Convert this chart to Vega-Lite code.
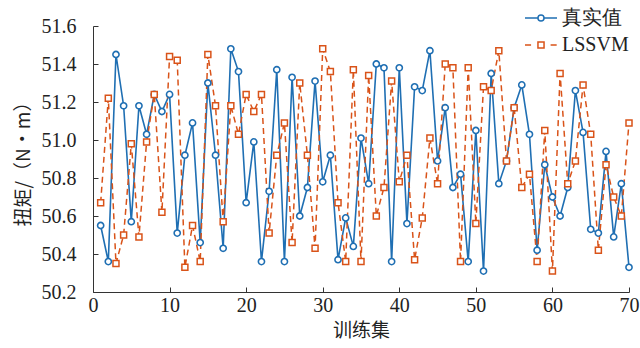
{
  "$schema": "https://vega.github.io/schema/vega-lite/v6.json",
  "width": 536,
  "height": 266,
  "autosize": {"type": "none"},
  "padding": {"left": 93, "top": 26, "right": 11, "bottom": 56},
  "background": "white",
  "config": {
    "view": {"stroke": null},
    "axis": {
      "grid": false,
      "domainColor": "#333333",
      "tickColor": "#333333",
      "domainWidth": 1,
      "tickSize": -5,
      "labelFont": "Liberation Serif",
      "labelFontSize": 20,
      "labelColor": "#222222",
      "titleFont": "Noto Sans CJK SC",
      "titleFontSize": 19,
      "titleFontWeight": "normal",
      "titleColor": "#222222"
    },
    "legend": {
      "labelFont": "Liberation Serif",
      "labelFontSize": 20,
      "labelColor": "#222222"
    }
  },
  "datasets": {
    "d": [
      {"x":1,"series":"真实值","v":50.55},{"x":2,"series":"真实值","v":50.36},{"x":3,"series":"真实值","v":51.45},{"x":4,"series":"真实值","v":51.18},{"x":5,"series":"真实值","v":50.57},
      {"x":6,"series":"真实值","v":51.18},{"x":7,"series":"真实值","v":51.03},{"x":8,"series":"真实值","v":51.24},{"x":9,"series":"真实值","v":51.15},{"x":10,"series":"真实值","v":51.24},
      {"x":11,"series":"真实值","v":50.51},{"x":12,"series":"真实值","v":50.92},{"x":13,"series":"真实值","v":51.09},{"x":14,"series":"真实值","v":50.46},{"x":15,"series":"真实值","v":51.30},
      {"x":16,"series":"真实值","v":50.92},{"x":17,"series":"真实值","v":50.43},{"x":18,"series":"真实值","v":51.48},{"x":19,"series":"真实值","v":51.36},{"x":20,"series":"真实值","v":50.67},
      {"x":21,"series":"真实值","v":50.99},{"x":22,"series":"真实值","v":50.36},{"x":23,"series":"真实值","v":50.73},{"x":24,"series":"真实值","v":51.37},{"x":25,"series":"真实值","v":50.36},
      {"x":26,"series":"真实值","v":51.33},{"x":27,"series":"真实值","v":50.60},{"x":28,"series":"真实值","v":50.75},{"x":29,"series":"真实值","v":51.31},{"x":30,"series":"真实值","v":50.78},
      {"x":31,"series":"真实值","v":50.92},{"x":32,"series":"真实值","v":50.37},{"x":33,"series":"真实值","v":50.59},{"x":34,"series":"真实值","v":50.44},{"x":35,"series":"真实值","v":51.01},
      {"x":36,"series":"真实值","v":50.77},{"x":37,"series":"真实值","v":51.40},{"x":38,"series":"真实值","v":51.38},{"x":39,"series":"真实值","v":50.36},{"x":40,"series":"真实值","v":51.38},
      {"x":41,"series":"真实值","v":50.56},{"x":42,"series":"真实值","v":51.28},{"x":43,"series":"真实值","v":51.26},{"x":44,"series":"真实值","v":51.47},{"x":45,"series":"真实值","v":50.89},
      {"x":46,"series":"真实值","v":51.17},{"x":47,"series":"真实值","v":50.75},{"x":48,"series":"真实值","v":50.82},{"x":49,"series":"真实值","v":50.36},{"x":50,"series":"真实值","v":51.05},
      {"x":51,"series":"真实值","v":50.31},{"x":52,"series":"真实值","v":51.35},{"x":53,"series":"真实值","v":50.77},{"x":54,"series":"真实值","v":50.89},{"x":55,"series":"真实值","v":51.17},
      {"x":56,"series":"真实值","v":51.29},{"x":57,"series":"真实值","v":51.03},{"x":58,"series":"真实值","v":50.42},{"x":59,"series":"真实值","v":50.87},{"x":60,"series":"真实值","v":50.70},
      {"x":61,"series":"真实值","v":50.60},{"x":62,"series":"真实值","v":50.75},{"x":63,"series":"真实值","v":51.26},{"x":64,"series":"真实值","v":51.04},{"x":65,"series":"真实值","v":50.53},
      {"x":66,"series":"真实值","v":50.51},{"x":67,"series":"真实值","v":50.94},{"x":68,"series":"真实值","v":50.49},{"x":69,"series":"真实值","v":50.77},{"x":70,"series":"真实值","v":50.33},
      {"x":1,"series":"LSSVM","v":50.67},{"x":2,"series":"LSSVM","v":51.22},{"x":3,"series":"LSSVM","v":50.35},{"x":4,"series":"LSSVM","v":50.50},{"x":5,"series":"LSSVM","v":50.98},
      {"x":6,"series":"LSSVM","v":50.49},{"x":7,"series":"LSSVM","v":50.99},{"x":8,"series":"LSSVM","v":51.24},{"x":9,"series":"LSSVM","v":50.62},{"x":10,"series":"LSSVM","v":51.44},
      {"x":11,"series":"LSSVM","v":51.42},{"x":12,"series":"LSSVM","v":50.33},{"x":13,"series":"LSSVM","v":50.55},{"x":14,"series":"LSSVM","v":50.36},{"x":15,"series":"LSSVM","v":51.45},
      {"x":16,"series":"LSSVM","v":51.18},{"x":17,"series":"LSSVM","v":50.57},{"x":18,"series":"LSSVM","v":51.18},{"x":19,"series":"LSSVM","v":51.03},{"x":20,"series":"LSSVM","v":51.24},
      {"x":21,"series":"LSSVM","v":51.15},{"x":22,"series":"LSSVM","v":51.24},{"x":23,"series":"LSSVM","v":50.51},{"x":24,"series":"LSSVM","v":50.92},{"x":25,"series":"LSSVM","v":51.09},
      {"x":26,"series":"LSSVM","v":50.46},{"x":27,"series":"LSSVM","v":51.30},{"x":28,"series":"LSSVM","v":50.92},{"x":29,"series":"LSSVM","v":50.43},{"x":30,"series":"LSSVM","v":51.48},
      {"x":31,"series":"LSSVM","v":51.36},{"x":32,"series":"LSSVM","v":50.67},{"x":33,"series":"LSSVM","v":50.36},{"x":34,"series":"LSSVM","v":51.37},{"x":35,"series":"LSSVM","v":50.36},
      {"x":36,"series":"LSSVM","v":51.34},{"x":37,"series":"LSSVM","v":50.60},{"x":38,"series":"LSSVM","v":50.75},{"x":39,"series":"LSSVM","v":51.31},{"x":40,"series":"LSSVM","v":50.78},
      {"x":41,"series":"LSSVM","v":50.92},{"x":42,"series":"LSSVM","v":50.37},{"x":43,"series":"LSSVM","v":50.59},{"x":44,"series":"LSSVM","v":51.01},{"x":45,"series":"LSSVM","v":50.77},
      {"x":46,"series":"LSSVM","v":51.40},{"x":47,"series":"LSSVM","v":51.38},{"x":48,"series":"LSSVM","v":50.36},{"x":49,"series":"LSSVM","v":51.38},{"x":50,"series":"LSSVM","v":50.56},
      {"x":51,"series":"LSSVM","v":51.28},{"x":52,"series":"LSSVM","v":51.26},{"x":53,"series":"LSSVM","v":51.47},{"x":54,"series":"LSSVM","v":50.89},{"x":55,"series":"LSSVM","v":51.17},
      {"x":56,"series":"LSSVM","v":50.75},{"x":57,"series":"LSSVM","v":50.82},{"x":58,"series":"LSSVM","v":50.36},{"x":59,"series":"LSSVM","v":51.05},{"x":60,"series":"LSSVM","v":50.31},
      {"x":61,"series":"LSSVM","v":51.35},{"x":62,"series":"LSSVM","v":50.77},{"x":63,"series":"LSSVM","v":50.89},{"x":64,"series":"LSSVM","v":51.29},{"x":65,"series":"LSSVM","v":51.03},
      {"x":66,"series":"LSSVM","v":50.42},{"x":67,"series":"LSSVM","v":50.87},{"x":68,"series":"LSSVM","v":50.70},{"x":69,"series":"LSSVM","v":50.60},{"x":70,"series":"LSSVM","v":51.09}
    ]
  },
  "data": {"name": "d"},
  "encoding": {
    "x": {
      "field": "x", "type": "quantitative",
      "scale": {"domain": [0, 70], "nice": false},
      "axis": {"values": [0,10,20,30,40,50,60,70], "title": "训练集", "labelPadding": 8, "titlePadding": 6, "labelFlush": false}
    },
    "y": {
      "field": "v", "type": "quantitative",
      "scale": {"domain": [50.2, 51.6], "nice": false, "zero": false},
      "axis": {"values": [50.2,50.4,50.6,50.8,51.0,51.2,51.4,51.6], "format": ".1f", "title": "扭矩/（N·m）", "labelPadding": 22, "titlePadding": 8, "labelFlush": false}
    }
  },
  "layer": [
    {
      "transform": [{"filter": "datum.series === '真实值'"}],
      "mark": {"type": "line", "strokeWidth": 1.6, "color": "#1f6fb3"},
      "encoding": {}
    },
    {
      "transform": [{"filter": "datum.series === 'LSSVM'"}],
      "mark": {"type": "line", "strokeWidth": 1.5, "color": "#d95319", "strokeDash": [6, 4]},
      "encoding": {}
    },
    {
      "transform": [{"filter": "datum.series === '真实值'"}],
      "mark": {"type": "point", "shape": "circle", "filled": false, "fill": "white", "fillOpacity": 1, "stroke": "#1f6fb3", "strokeWidth": 1.6, "size": 38, "opacity": 1}
    },
    {
      "transform": [{"filter": "datum.series === 'LSSVM'"}],
      "mark": {"type": "point", "shape": "square", "filled": false, "fill": "white", "fillOpacity": 1, "stroke": "#d95319", "strokeWidth": 1.5, "size": 36, "opacity": 1}
    },
    {
      "transform": [{"filter": "datum.x < 0"}],
      "mark": {"type": "point", "filled": false, "opacity": 1, "strokeWidth": 1.5},
      "encoding": {
        "color": {
          "field": "series", "type": "nominal",
          "scale": {"domain": ["真实值", "LSSVM"], "range": ["#1f6fb3", "#d95319"]},
          "legend": {
            "orient": "none",
            "legendX": 431,
            "legendY": -25,
            "title": null,
            "padding": 0,
            "rowPadding": 0,
            "symbolSize": 1024,
            "symbolStrokeWidth": 1.5,
            "symbolFillColor": "white",
            "symbolOpacity": 1,
            "labelOffset": 4
          }
        },
        "shape": {
          "field": "series", "type": "nominal",
          "scale": {"domain": ["真实值", "LSSVM"], "range": ["M-1,0H-0.19M0.19,0H1M-0.19,0A0.19,0.19,0,1,0,0.19,0A0.19,0.19,0,1,0,-0.19,0Z", "M-1,0H-0.62M0.6,0H0.98M-0.19,-0.19H0.19V0.19H-0.19Z"]},
          "legend": {
            "orient": "none",
            "legendX": 431,
            "legendY": -25,
            "title": null,
            "padding": 0,
            "rowPadding": 0,
            "symbolSize": 1024,
            "symbolStrokeWidth": 1.5,
            "symbolFillColor": "white",
            "symbolOpacity": 1,
            "labelOffset": 4
          }
        }
      }
    }
  ]
}
